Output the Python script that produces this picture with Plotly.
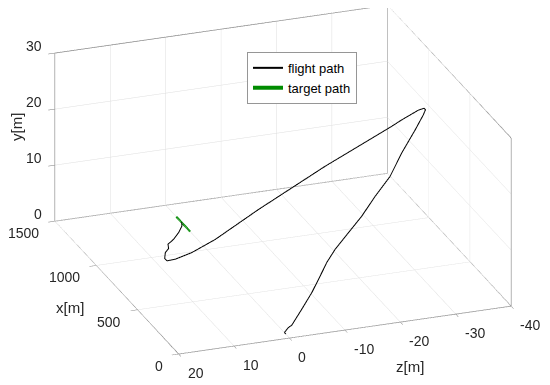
import plotly.graph_objects as go

# MATLAB-style axes: x = downrange [m], y = height [m], z = lateral [m]
flight_x = [0, 5, 15, 25, 50, 80, 100, 130, 160, 200, 250, 300, 360, 420, 490, 530, 555, 580, 600, 630,
            650, 700, 750, 800, 820, 860, 880, 890, 900, 915, 960, 990, 1030, 1070, 1130, 1200, 1260]
flight_y = [0.8, 1.05, 1.66, 1.8, 3.94, 6.1, 7.9, 10.2, 11.8, 13.7, 15.4, 17.7, 19.8, 22.6, 25.1, 26.9, 27.3, 27.15, 26.6, 24.75,
            23.5, 19.9, 16.3, 12.4, 9.05, 4.1, 2.0, 1.06, 0.8, 1.0, 1.25, 1.34, 1.4, 1.44, 1.43, 1.26, 0.86]
flight_z = [0.67, 0.83, -0.04, -0.79, -2.96, -5.21, -6.71, -8.66, -10.62, -13.61, -16.75, -19.91, -23.5, -26.49, -29.95, -32.04, -32.8, -32.9, -32.18, -29.62,
            -28.11, -22.86, -17.6, -12.33, -6.63, 0.58, 4.5, 7.34, 8.7, 8.89, 8.1, 7.06, 6.58, 4.96, 3.17, 1.53, 0.69]

target_x = [1203, 1371]
target_y = [0, 0]
target_z = [0, 0]

x_ticks = [0, 500, 1000, 1500]
y_ticks = [0, 10, 20, 30]
z_ticks = [20, 10, 0, -10, -20, -30, -40]

x_range = [0, 1500]
y_range = [0, 30]
z_range = [20, -40]

# plotly scene: px = -z (lateral, to the right), py = x (depth), pz = y (height)
def to_px(zs):
    return [-v for v in zs]

fig = go.Figure()

# back box edges (MATLAB BoxStyle 'back'), derived from the axis ranges
xl, xr = -z_range[0], -z_range[1]
y0, y1 = x_range
h0, h1 = y_range
ex, ey, ez = [], [], []
for seg in [((xl, y0, h0), (xr, y0, h0)), ((xl, y0, h0), (xl, y1, h0)), ((xl, y1, h0), (xr, y1, h0)),
            ((xr, y0, h0), (xr, y1, h0)), ((xl, y1, h0), (xl, y1, h1)), ((xr, y1, h0), (xr, y1, h1)),
            ((xl, y1, h1), (xr, y1, h1)), ((xr, y0, h1), (xr, y1, h1)), ((xr, y0, h0), (xr, y0, h1))]:
    for p in seg:
        ex.append(p[0]); ey.append(p[1]); ez.append(p[2])
    ex.append(None); ey.append(None); ez.append(None)
fig.add_trace(go.Scatter3d(x=ex, y=ey, z=ez, mode='lines', line=dict(color='rgb(120,120,120)', width=1.5),
                           showlegend=False, hoverinfo='skip'))

fig.add_trace(go.Scatter3d(x=to_px(flight_z), y=flight_x, z=flight_y, mode='lines',
                           line=dict(color='black', width=2), name='flight path'))
fig.add_trace(go.Scatter3d(x=to_px(target_z), y=target_x, z=target_y, mode='lines',
                           line=dict(color='rgb(0,140,0)', width=4), name='target path'))

axis_common = dict(showbackground=False, gridcolor='rgb(222,222,222)', gridwidth=1,
                   showline=False, zeroline=False, ticks='outside', ticklen=7,
                   tickcolor='rgb(120,120,120)', showspikes=False, showticklabels=False,
                   title=dict(text=''))

# MATLAB-style tick labels, anchored at the tick positions through the scene's own 3D scales
tick_font = dict(family='Liberation Sans, Arial', size=14, color='rgb(38,38,38)')
scene_ann = []
for v in x_ticks:      # depth axis, left bottom edge
    scene_ann.append(dict(x=xl, y=v, z=h0, text=str(v), showarrow=False, xanchor='right', yanchor='middle',
                          xshift=-14, yshift=-12, font=tick_font))
for v in y_ticks:      # height axis, back-left vertical edge
    scene_ann.append(dict(x=xl, y=y1, z=v, text=str(v), showarrow=False, xanchor='right', yanchor='middle',
                          xshift=-11, yshift=7, font=tick_font))
for v in z_ticks:      # lateral axis, front bottom edge
    scene_ann.append(dict(x=-v, y=y0, z=h0, text=str(v), showarrow=False, xanchor='left', yanchor='middle',
                          xshift=7, yshift=-19, font=tick_font))

fig.update_layout(
    width=550, height=385,
    paper_bgcolor='white',
    margin=dict(l=0, r=0, t=0, b=0),
    showlegend=True,
    legend=dict(x=0.4345, y=0.886, xanchor='left', yanchor='top', bgcolor='white',
                bordercolor='rgb(150,150,150)', borderwidth=1,
                font=dict(family='Liberation Sans, Arial', size=13, color='black'),
                tracegroupgap=0, itemwidth=30),
    scene=dict(
        domain=dict(x=[0, 1], y=[0, 1]),
        xaxis=dict(axis_common, range=[-z_range[0], -z_range[1]], tickvals=to_px(z_ticks)),
        yaxis=dict(axis_common, range=x_range, tickvals=x_ticks),
        zaxis=dict(axis_common, range=y_range, tickvals=y_ticks),
        aspectmode='manual', aspectratio=dict(x=1.84, y=1.87, z=0.95),
        camera=dict(eye=dict(x=-0.351, y=-0.958, z=0.318), up=dict(x=0, y=0, z=1),
                    center=dict(x=0, y=0, z=-0.118), projection=dict(type='orthographic')),
        annotations=scene_ann,
    ),
)
title_font = dict(family='Liberation Sans, Arial', size=15, color='rgb(38,38,38)')
for txt, px_x, px_y, ang in [('y[m]', 8, 119, -90), ('x[m]', 62, 299, 0), ('z[m]', 402, 358, 0)]:
    fig.add_annotation(text=txt, x=px_x / 550, y=1 - px_y / 385, xref='paper', yref='paper',
                       xanchor='center', yanchor='middle', showarrow=False, textangle=ang, font=title_font)

fig.write_html('out.html')
